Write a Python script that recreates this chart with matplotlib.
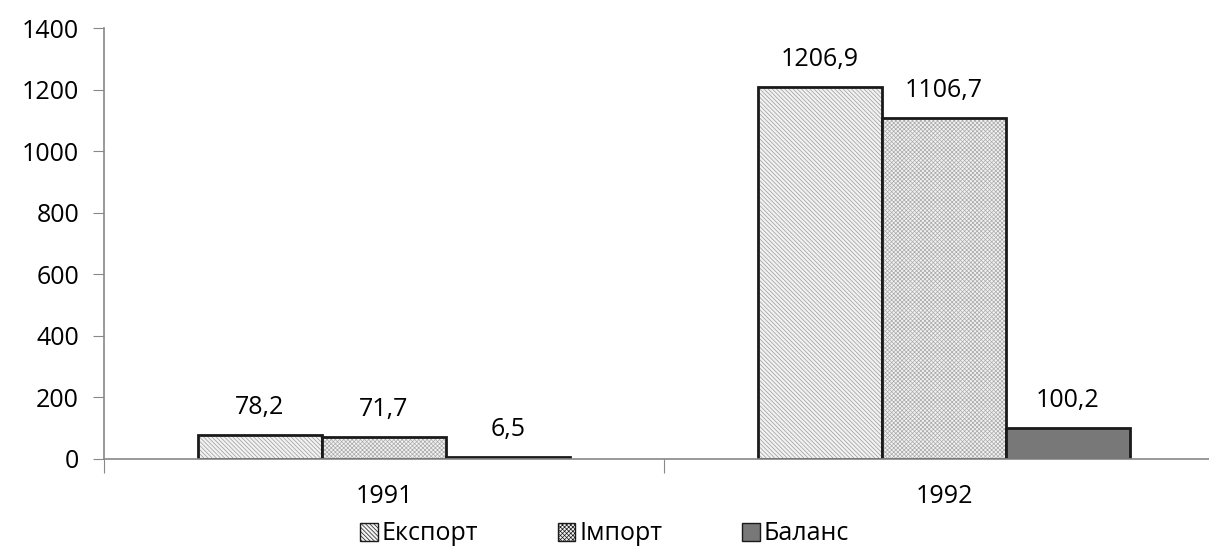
import numpy as np
import matplotlib.pyplot as plt

plt.rcParams['font.family'] = ['Open Sans', 'DejaVu Sans']
plt.rcParams['hatch.linewidth'] = 0.5

years = ['1991', '1992']
series = ['Експорт', 'Імпорт', 'Баланс']
export = [78.2, 1206.9]
imports = [71.7, 1106.7]
balance = [6.5, 100.2]
labels_text = [['78,2', '1206,9'], ['71,7', '1106,7'], ['6,5', '100,2']]

fig = plt.figure(figsize=(12.09, 5.47), dpi=100)
ax = fig.add_axes([104 / 1209, 88 / 547, 1120 / 1209, 431 / 547])

x = np.arange(len(years))
w = 0.2214
styles = [
    dict(facecolor='#f2f2f2', hatch='\\\\\\\\\\\\\\\\', edgecolor='#9a9a9a'),
    dict(facecolor='#f2f2f2', hatch='xxxxxxxx', edgecolor='#aaaaaa'),
    dict(facecolor='#787878', hatch=None, edgecolor='#787878'),
]
handles = []
for i, vals in enumerate([export, imports, balance]):
    pos = x + (i - 1) * w
    st = styles[i]
    b = ax.bar(pos, vals, w, color=st['facecolor'], hatch=st['hatch'],
               edgecolor=st['edgecolor'], linewidth=0, label=series[i])
    # black outline
    ax.bar(pos, vals, w, fill=False, edgecolor='#1a1a1a', linewidth=2)
    handles.append(b)
    for p, v, t in zip(pos, vals, labels_text[i]):
        ax.annotate(t, (p, v), xytext=(0, 11), textcoords='offset points',
                    ha='center', va='bottom', fontsize=18)

ax.set_xlim(-0.5, 1.5)
ax.set_ylim(0, 1400)
ax.set_yticks(np.arange(0, 1401, 200))
ax.tick_params(axis='y', direction='out', length=8, color='#888888', labelsize=18, pad=10)
ax.set_xticks([-0.5, 0.5, 1.5])
ax.set_xticklabels([])
ax.set_xticks(x, minor=True)
ax.set_xticklabels(years, minor=True)
ax.tick_params(axis='x', which='major', direction='out', length=10, color='#888888')
ax.tick_params(axis='x', which='minor', length=0, labelsize=18, pad=18)
for s in ['top', 'right']:
    ax.spines[s].set_visible(False)
for s in ['left', 'bottom']:
    ax.spines[s].set_color('#888888')
    ax.spines[s].set_linewidth(1.2)

leg = fig.legend(handles=handles, labels=series, loc='center', bbox_to_anchor=(0.5, 13 / 547),
                 ncol=3, frameon=False, fontsize=18, handlelength=0.7, handleheight=0.7,
                 handletextpad=0.15, columnspacing=3.2, borderpad=0)
for h in leg.legend_handles:
    h.set_edgecolor('#1a1a1a')
    h.set_linewidth(1)

fig.savefig('out.png', dpi=100)
